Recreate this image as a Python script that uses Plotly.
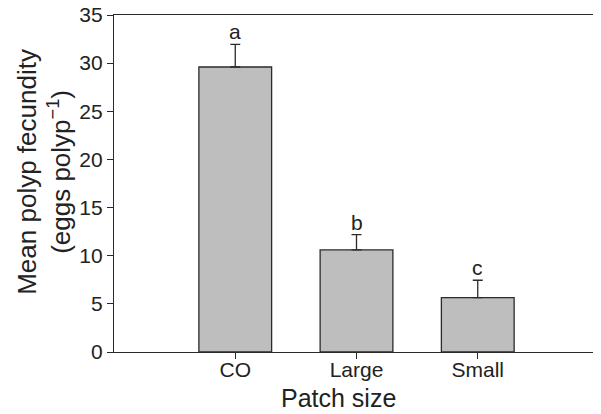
import plotly.graph_objects as go

categories = ["CO", "Large", "Small"]
means = [29.6, 10.6, 5.65]
se = [2.35, 1.6, 1.8]
letters = ["a", "b", "c"]
y_ticks = [0, 5, 10, 15, 20, 25, 30, 35]

FONT = "Liberation Sans, Arial, Helvetica, sans-serif"
LINE = "#2b2b2b"
TXT = "#222"

fig = go.Figure()
fig.add_trace(go.Bar(
    x=categories, y=means, width=0.6,
    marker=dict(color="#bebebf", line=dict(color=LINE, width=1.3)),
    error_y=dict(type="data", array=se, arrayminus=[0] * len(se), symmetric=False,
                 color=LINE, thickness=1.3, width=5),
    showlegend=False,
))

for c, m, e, l in zip(categories, means, se, letters):
    fig.add_annotation(x=c, y=m + e, text=l, showarrow=False, yanchor="bottom",
                       yshift=-1, font=dict(family=FONT, size=21, color=TXT))

# axis titles as annotations (positioned like the reference)
fig.add_annotation(text="Patch size", xref="paper", yref="paper", x=0.4639, y=-0.1378,
                   xanchor="center", yanchor="middle", showarrow=False,
                   font=dict(family=FONT, size=25, color=TXT))
fig.add_annotation(text="Mean polyp fecundity<br>(eggs polyp<sup>−1</sup>)",
                   xref="paper", yref="paper", x=-0.1443, y=0.5348, textangle=-90,
                   xanchor="center", yanchor="middle", showarrow=False,
                   font=dict(family=FONT, size=26, color=TXT))

fig.update_layout(
    width=593, height=406,
    margin=dict(l=106, r=2, t=7, b=61.5, autoexpand=False),
    paper_bgcolor="white", plot_bgcolor="white",
    font=dict(family=FONT, color=TXT),
    bargap=0.4,
)
fig.update_xaxes(
    type="category", categoryorder="array", categoryarray=categories,
    range=[-1, 3], showline=True, linecolor=LINE, linewidth=1.3, mirror=True,
    ticks="outside", ticklen=6, tickcolor=LINE, tickwidth=1.2,
    tickfont=dict(size=21), showgrid=False, zeroline=False, automargin=False,
    ticklabelstandoff=-7,
)
fig.update_yaxes(
    range=[0, 35], tickvals=y_ticks, showline=True, linecolor=LINE, linewidth=1.3,
    mirror=True, ticks="outside", ticklen=6, tickcolor=LINE, tickwidth=1.2,
    tickfont=dict(size=21), showgrid=False, zeroline=False, automargin=False,
    ticklabeloverflow="allow",
)
fig.write_html("out.html")
